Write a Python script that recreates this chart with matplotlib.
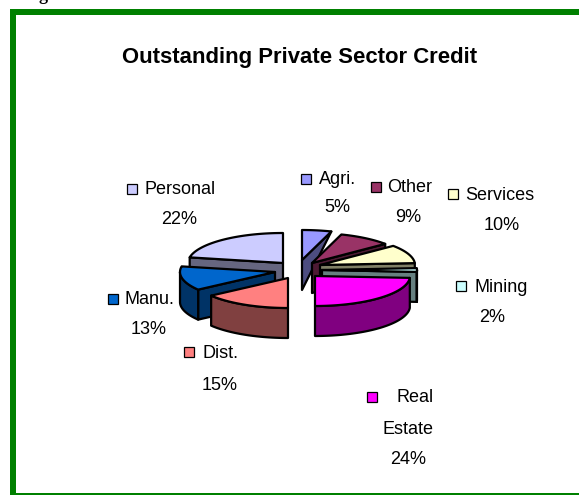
import numpy as np
import matplotlib
matplotlib.use("Agg")
import matplotlib.pyplot as plt
from matplotlib.patches import Polygon, Rectangle

plt.rcParams['font.family'] = ['Liberation Sans', 'DejaVu Sans']

# data, clockwise from 12 o'clock
names = ["Agri.", "Other", "Services", "Mining", "Real Estate", "Dist.", "Manu.", "Personal"]
shares = [5, 9, 10, 2, 24, 15, 13, 22]

top_cols = ["#9999FF", "#993366", "#FFFFCC", "#CCFFFF", "#FF00FF", "#FF8080", "#0066CC", "#CCCCFF"]
side_cols = ["#4D4D80", "#4D1A33", "#808066", "#668080", "#800080", "#804040", "#003366", "#666680"]

# layout, in image pixels
apex = [(302, 260), (312, 263), (320, 265), (322, 270), (315, 276), (288, 278), (275, 272), (283, 263)]
rx, ry, depth = 95, 30, 30
draw_order = [7, 0, 1, 2, 3, 6, 4, 5]

fig = plt.figure(figsize=(5.79, 4.95), dpi=100)
ax = fig.add_axes([0, 0, 1, 1])
ax.set_xlim(0, 579)
ax.set_ylim(495, 0)
ax.axis("off")

# green frame, no right side
ax.add_patch(Rectangle((10, 9), 6, 486, color="#008000", lw=0))
ax.add_patch(Rectangle((10, 9), 569, 6, color="#008000", lw=0))
ax.add_patch(Rectangle((10, 493), 569, 2, color="#008000", lw=0))
ax.text(43, -5, "g", family="Liberation Serif", fontweight="bold", fontsize=13, ha="center", va="center")

ax.text(300, 58, "Outstanding Private Sector Credit", fontsize=15.9, fontweight="bold", ha="center", va="center")

edges = np.cumsum([0] + shares) * 3.6


def rim(i, a, b):
    t = np.radians(np.linspace(a, b, 60))
    return np.column_stack([apex[i][0] + rx * np.sin(t), apex[i][1] - ry * np.cos(t)])


for i in draw_order:
    a, b = edges[i], edges[i + 1]
    cx, cy = apex[i]
    # cut face
    if b <= 90:
        end = rim(i, b, b)[0]
        if i == 0:
            pts = [(cx, cy), end, (cx, cy + depth)]
        else:
            pts = [(cx, cy), end, (end[0], end[1] + depth), (cx, cy + depth)]
        ax.add_patch(Polygon(pts, fc=side_cols[i], ec="black", lw=1.6, joinstyle="round"))
    elif i == 3:
        end = rim(i, b, b)[0]
        ax.add_patch(Polygon([(cx, cy), end, (end[0], end[1] + depth), (cx, cy + depth)],
                             fc=side_cols[i], ec="black", lw=1.6))
    elif a > 180:
        st = rim(i, a, a)[0]
        ax.add_patch(Polygon([(cx, cy), st, (st[0], st[1] + depth), (cx, cy + depth)],
                             fc=side_cols[i], ec="black", lw=1.6, joinstyle="round"))
    # outer wall, only the part that faces the viewer
    lo, hi = max(a, 90), min(b, 270)
    if lo < hi:
        arc = rim(i, lo, hi)
        wall = np.vstack([arc, (arc + [0, depth])[::-1]])
        ax.add_patch(Polygon(wall, fc=side_cols[i], ec="black", lw=1.6, joinstyle="round"))
    # top face
    ax.add_patch(Polygon(np.vstack([[cx, cy], rim(i, a, b)]), fc=top_cols[i], ec="black", lw=1.6, joinstyle="round"))

# labels: swatch x, swatch y, name x, percent x, percent y
label_pos = [(306, 179, 319, 337, 208),
             (376, 187, 387, 408, 218),
             (453, 194, 465, 502, 226),
             (461, 286, 474, 492, 318),
             (372, 397, 397, 408, 459),
             (189, 352, 203, 220, 385),
             (113, 299, 124, 149, 330),
             (132, 189, 145, 179, 220)]

for i, (sx, sy, nx, px, py) in enumerate(label_pos):
    ax.add_patch(Rectangle((sx - 5, sy - 5), 10, 10, fc=top_cols[i], ec="black", lw=0.9))
    if names[i] == "Real Estate":
        ax.text(nx, sy + 1, "Real", fontsize=13, ha="left", va="center")
        ax.text(383, 429, "Estate", fontsize=13, ha="left", va="center")
    else:
        ax.text(nx, sy + 1, names[i], fontsize=13, ha="left", va="center")
    ax.text(px, py, f"{shares[i]}%", fontsize=13, ha="center", va="center")

fig.savefig("out.png", dpi=100)
